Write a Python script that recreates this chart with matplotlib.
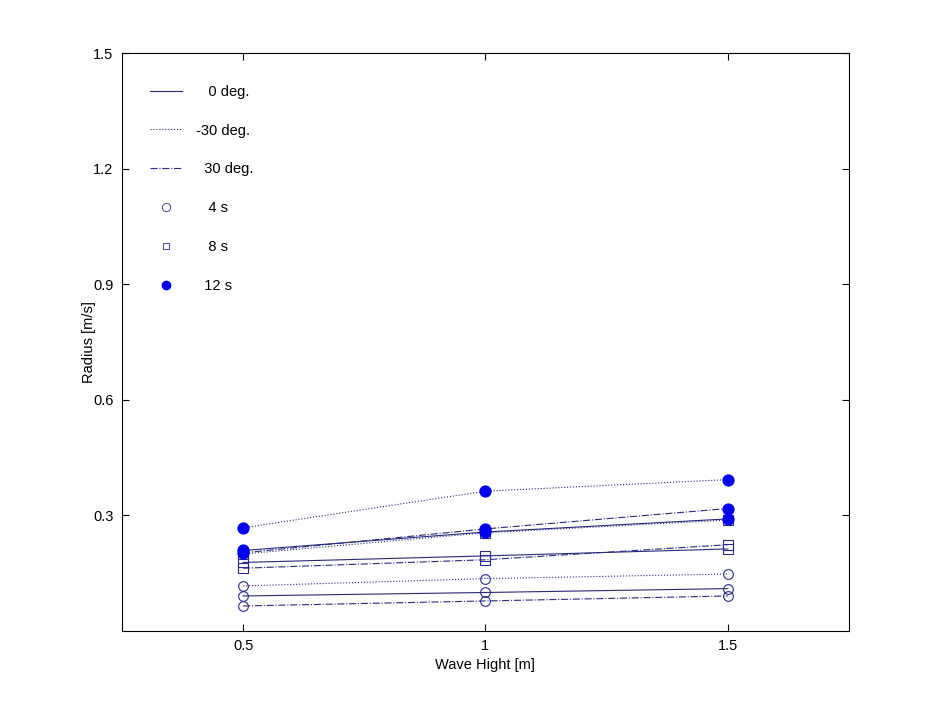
import matplotlib
matplotlib.use("Agg")
import matplotlib.pyplot as plt
from matplotlib.lines import Line2D

plt.rcParams["font.family"] = ["Liberation Sans", "DejaVu Sans"]

# ==========================
# DATA
# ==========================

wave_height = [0.5, 1.0, 1.5]

# period 4 s
r4_m30 = [0.117, 0.136, 0.148]
r4_0 = [0.091, 0.100, 0.110]
r4_p30 = [0.065, 0.078, 0.091]

# period 8 s
r8_m30 = [0.200, 0.255, 0.288]
r8_0 = [0.178, 0.195, 0.213]
r8_p30 = [0.163, 0.185, 0.224]

# period 12 s
r12_m30 = [0.268, 0.363, 0.393]
r12_0 = [0.209, 0.257, 0.291]
r12_p30 = [0.203, 0.265, 0.318]

x_ticks = [0.5, 1.0, 1.5]
x_tick_labels = ["0.5", "1", "1.5"]
y_ticks = [0.3, 0.6, 0.9, 1.2, 1.5]
y_tick_labels = ["0.3", "0.6", "0.9", "1.2", "1.5"]

LINE_COLOR = "#2a2a7a"
EDGE_COLOR = "#2a2a8a"
FILL_COLOR = "#0000ee"

fig = plt.figure(figsize=(9.38, 7.09), dpi=100)
ax = fig.add_axes([0.13, 0.11, 0.775, 0.815])

series = [
    (r4_m30, ":", "o", "none"),
    (r4_0, "-", "o", "none"),
    (r4_p30, "-.", "o", "none"),
    (r8_m30, ":", "s", "none"),
    (r8_0, "-", "s", "none"),
    (r8_p30, "-.", "s", "none"),
    (r12_m30, ":", "o", FILL_COLOR),
    (r12_0, "-", "o", FILL_COLOR),
    (r12_p30, "-.", "o", FILL_COLOR),
]

for values, ls, mk, fill in series:
    ax.plot(wave_height, values, linestyle=ls, color=LINE_COLOR,
            linewidth=0.8)

for values, ls, mk, fill in series:
    filled = fill != "none"
    ax.plot(wave_height, values, linestyle="none", marker=mk,
            markersize=8 if filled else 7,
            markerfacecolor=fill,
            markeredgecolor=FILL_COLOR if filled else EDGE_COLOR,
            markeredgewidth=0.8)

ax.set_xlim(0.25, 1.75)
ax.set_ylim(0, 1.5)
ax.set_xticks(x_ticks)
ax.set_xticklabels(x_tick_labels)
ax.set_yticks(y_ticks)
ax.set_yticklabels(y_tick_labels)
ax.tick_params(direction="in", top=True, right=True, length=5,
               width=0.8, labelsize=10.5, pad=6)
for sp in ax.spines.values():
    sp.set_linewidth(0.8)

ax.set_xlabel("Wave Hight [m]", fontsize=10.5, labelpad=3)
ax.set_ylabel("Radius [m/s]", fontsize=10.5, labelpad=-2)

# ==========================
# LEGEND
# ==========================

handles = [
    Line2D([], [], color=LINE_COLOR, linestyle="-", linewidth=0.8),
    Line2D([], [], color=LINE_COLOR, linestyle=":", linewidth=0.8),
    Line2D([], [], color=LINE_COLOR, linestyle="-.", linewidth=0.8),
    Line2D([], [], color=EDGE_COLOR, linestyle="none", marker="o",
           markerfacecolor="none", markersize=6, markeredgewidth=0.6),
    Line2D([], [], color=EDGE_COLOR, linestyle="none", marker="s",
           markerfacecolor="none", markersize=5, markeredgewidth=0.6),
    Line2D([], [], color=FILL_COLOR, linestyle="none", marker="o",
           markerfacecolor=FILL_COLOR, markersize=6),
]
labels = ["   0 deg.", "-30 deg.", "  30 deg.", "   4 s", "   8 s", "  12 s"]

ax.legend(handles, labels, loc="upper left", bbox_to_anchor=(0.02, 0.968),
          frameon=False, fontsize=10.5, handlelength=2.2,
          labelspacing=1.7, handletextpad=1.0)

fig.savefig("out.png", dpi=100)
